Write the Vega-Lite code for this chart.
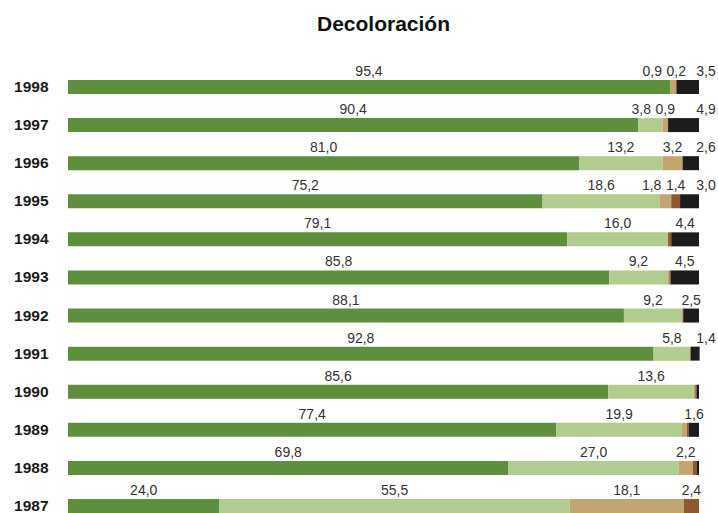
{
  "$schema": "https://vega.github.io/schema/vega-lite/v6.json",
  "width": 631,
  "height": 433,
  "autosize": {"type": "none"},
  "padding": {"left": 68, "top": 80, "right": 19, "bottom": 0},
  "background": "white",
  "title": {
    "text": "Decoloración",
    "font": "Liberation Sans",
    "fontSize": 21,
    "fontWeight": "bold",
    "color": "#111111",
    "anchor": "middle",
    "offset": 30
  },
  "config": {"view": {"stroke": null}},
  "data": {
    "values": [
      {"year": 1998, "clase": "0-10%", "order": 1, "value": 95.4, "shown": true},
      {"year": 1998, "clase": "11-25%", "order": 3, "value": 0.9, "shown": true},
      {"year": 1998, "clase": "26-60%", "order": 4, "value": 0.2, "shown": true},
      {"year": 1998, "clase": ">60%", "order": 5, "value": 3.5, "shown": true},
      {"year": 1997, "clase": "0-10%", "order": 1, "value": 90.4, "shown": true},
      {"year": 1997, "clase": "0-10% (ligera)", "order": 2, "value": 3.8, "shown": true},
      {"year": 1997, "clase": "11-25%", "order": 3, "value": 0.9, "shown": true},
      {"year": 1997, "clase": ">60%", "order": 5, "value": 4.9, "shown": true},
      {"year": 1996, "clase": "0-10%", "order": 1, "value": 81.0, "shown": true},
      {"year": 1996, "clase": "0-10% (ligera)", "order": 2, "value": 13.2, "shown": true},
      {"year": 1996, "clase": "11-25%", "order": 3, "value": 3.2, "shown": true},
      {"year": 1996, "clase": ">60%", "order": 5, "value": 2.6, "shown": true},
      {"year": 1995, "clase": "0-10%", "order": 1, "value": 75.2, "shown": true},
      {"year": 1995, "clase": "0-10% (ligera)", "order": 2, "value": 18.6, "shown": true},
      {"year": 1995, "clase": "11-25%", "order": 3, "value": 1.8, "shown": true},
      {"year": 1995, "clase": "26-60%", "order": 4, "value": 1.4, "shown": true},
      {"year": 1995, "clase": ">60%", "order": 5, "value": 3.0, "shown": true},
      {"year": 1994, "clase": "0-10%", "order": 1, "value": 79.1, "shown": true},
      {"year": 1994, "clase": "0-10% (ligera)", "order": 2, "value": 16.0, "shown": true},
      {"year": 1994, "clase": "26-60%", "order": 4, "value": 0.5, "shown": false},
      {"year": 1994, "clase": ">60%", "order": 5, "value": 4.4, "shown": true},
      {"year": 1993, "clase": "0-10%", "order": 1, "value": 85.8, "shown": true},
      {"year": 1993, "clase": "0-10% (ligera)", "order": 2, "value": 9.2, "shown": true},
      {"year": 1993, "clase": "11-25%", "order": 3, "value": 0.3, "shown": false},
      {"year": 1993, "clase": "26-60%", "order": 4, "value": 0.2, "shown": false},
      {"year": 1993, "clase": ">60%", "order": 5, "value": 4.5, "shown": true},
      {"year": 1992, "clase": "0-10%", "order": 1, "value": 88.1, "shown": true},
      {"year": 1992, "clase": "0-10% (ligera)", "order": 2, "value": 9.2, "shown": true},
      {"year": 1992, "clase": "11-25%", "order": 3, "value": 0.1, "shown": false},
      {"year": 1992, "clase": "26-60%", "order": 4, "value": 0.1, "shown": false},
      {"year": 1992, "clase": ">60%", "order": 5, "value": 2.5, "shown": true},
      {"year": 1991, "clase": "0-10%", "order": 1, "value": 92.8, "shown": true},
      {"year": 1991, "clase": "0-10% (ligera)", "order": 2, "value": 5.8, "shown": true},
      {"year": 1991, "clase": "26-60%", "order": 4, "value": 0.1, "shown": false},
      {"year": 1991, "clase": ">60%", "order": 5, "value": 1.4, "shown": true},
      {"year": 1990, "clase": "0-10%", "order": 1, "value": 85.6, "shown": true},
      {"year": 1990, "clase": "0-10% (ligera)", "order": 2, "value": 13.6, "shown": true},
      {"year": 1990, "clase": "11-25%", "order": 3, "value": 0.2, "shown": false},
      {"year": 1990, "clase": "26-60%", "order": 4, "value": 0.2, "shown": false},
      {"year": 1990, "clase": ">60%", "order": 5, "value": 0.4, "shown": false},
      {"year": 1989, "clase": "0-10%", "order": 1, "value": 77.4, "shown": true},
      {"year": 1989, "clase": "0-10% (ligera)", "order": 2, "value": 19.9, "shown": true},
      {"year": 1989, "clase": "11-25%", "order": 3, "value": 0.8, "shown": false},
      {"year": 1989, "clase": "26-60%", "order": 4, "value": 0.3, "shown": false},
      {"year": 1989, "clase": ">60%", "order": 5, "value": 1.6, "shown": true},
      {"year": 1988, "clase": "0-10%", "order": 1, "value": 69.8, "shown": true},
      {"year": 1988, "clase": "0-10% (ligera)", "order": 2, "value": 27.0, "shown": true},
      {"year": 1988, "clase": "11-25%", "order": 3, "value": 2.2, "shown": true},
      {"year": 1988, "clase": "26-60%", "order": 4, "value": 0.6, "shown": false},
      {"year": 1988, "clase": ">60%", "order": 5, "value": 0.4, "shown": false},
      {"year": 1987, "clase": "0-10%", "order": 1, "value": 24.0, "shown": true},
      {"year": 1987, "clase": "0-10% (ligera)", "order": 2, "value": 55.5, "shown": true},
      {"year": 1987, "clase": "11-25%", "order": 3, "value": 18.1, "shown": true},
      {"year": 1987, "clase": "26-60%", "order": 4, "value": 2.4, "shown": true}
    ]
  },
  "transform": [
    {"stack": "value", "groupby": ["year"], "sort": [{"field": "order", "order": "ascending"}], "as": ["x0", "x1"]}
  ],
  "encoding": {
    "y": {
      "field": "year",
      "type": "ordinal",
      "sort": "descending",
      "scale": {"paddingInner": 0.6325, "paddingOuter": 0},
      "axis": {
        "title": null,
        "domain": false,
        "ticks": false,
        "labelPadding": 20,
        "labelFont": "Liberation Sans",
        "labelFontSize": 15.5,
        "labelFontWeight": "bold",
        "labelColor": "#1a1a1a"
      }
    }
  },
  "layer": [
    {
      "mark": {"type": "bar", "height": 14},
      "encoding": {
        "x": {"field": "x0", "type": "quantitative", "scale": {"domain": [0, 100], "nice": false, "zero": true}, "axis": null},
        "x2": {"field": "x1"},
        "color": {
          "field": "clase",
          "type": "nominal",
          "scale": {
            "domain": ["0-10%", "0-10% (ligera)", "11-25%", "26-60%", ">60%"],
            "range": ["#5e8f3d", "#b2cb8e", "#c3a572", "#8c5a2e", "#1d1b1b"]
          },
          "legend": null
        }
      }
    },
    {
      "transform": [
        {"filter": "datum.shown"},
        {"calculate": "(datum.x0 + datum.x1) / 2", "as": "mid"},
        {
          "window": [
            {"op": "row_number", "as": "rr"},
            {"op": "lead", "field": "mid", "as": "prevMid"}
          ],
          "groupby": ["year"],
          "sort": [{"field": "order", "order": "descending"}]
        },
        {"calculate": "datum.rr == 1 && datum.prevMid != null && datum.mid - datum.prevMid < 3.8 ? 101.1 : datum.mid", "as": "base"},
        {"calculate": "datum.base + datum.rr * 3.8", "as": "adj"},
        {
          "window": [{"op": "min", "field": "adj", "as": "cm"}],
          "groupby": ["year"],
          "sort": [{"field": "order", "order": "descending"}],
          "frame": [null, 0]
        },
        {"calculate": "datum.cm - datum.rr * 3.8", "as": "labx"},
        {"calculate": "replace(format(datum.value, '.1f'), '.', ',')", "as": "txt"}
      ],
      "mark": {"type": "text", "font": "Liberation Sans", "fontSize": 14, "color": "#333333", "baseline": "alphabetic", "align": "center", "dy": -11},
      "encoding": {
        "x": {"field": "labx", "type": "quantitative"},
        "text": {"field": "txt"}
      }
    }
  ]
}
